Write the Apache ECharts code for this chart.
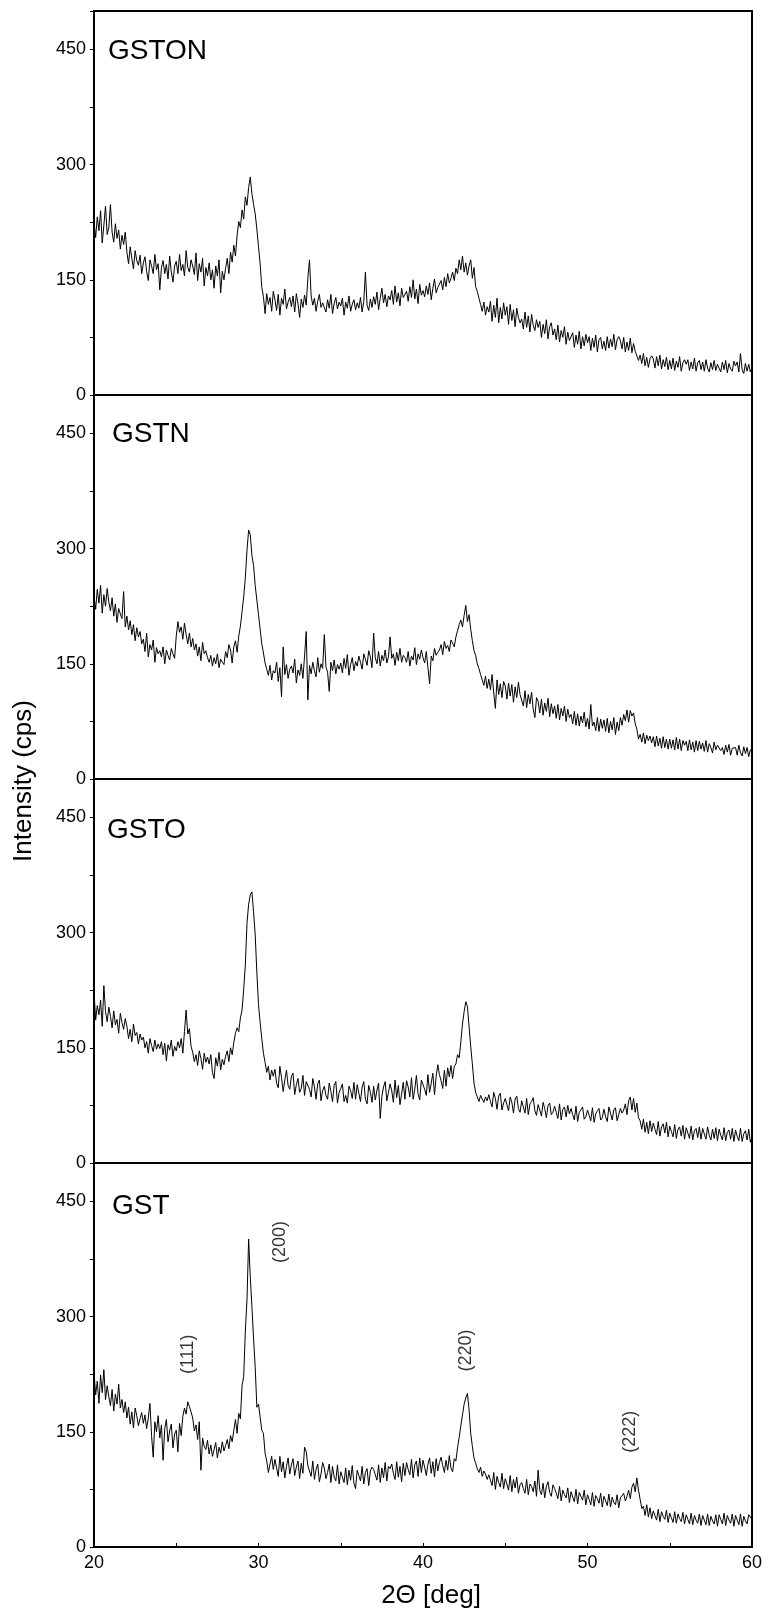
<!DOCTYPE html>
<html>
<head>
<meta charset="UTF-8">
<title>XRD GST</title>
<script src="https://cdn.jsdelivr.net/npm/echarts@6/dist/echarts.min.js"></script>
<style>html,body{margin:0;padding:0;background:#fff;}</style>
</head>
<body>
<div id="main" style="width:766px;height:1615px;"></div>
<script>
// 2theta sampling: 20..60 deg, 0.1 deg step (401 points per pattern)
var startAngle = 20;
var stepAngle = 0.1;

var panelNames = ['GSTON', 'GSTN', 'GSTO', 'GST'];

var gston = [
  225,205,232,214,240,198,221,246,209,218,
  248,212,199,223,204,215,190,208,196,212,
  186,171,193,178,164,188,175,169,182,158,
  172,180,161,149,176,168,158,183,163,171,
  137,166,175,158,170,151,181,160,147,168,
  174,158,183,162,170,155,188,166,160,176,
  168,157,185,149,171,160,178,142,166,155,
  172,150,163,139,168,155,176,133,161,150,
  165,178,158,186,173,195,181,208,226,218,
  241,229,258,247,270,284,262,248,236,216,
  193,171,140,128,106,132,118,127,109,135,
  124,110,131,104,126,118,138,112,121,127,
  115,129,108,132,119,101,125,114,130,117,
  152,176,129,117,126,109,122,131,114,120,
  118,108,124,113,131,106,119,127,112,121,
  116,126,104,121,113,129,109,118,124,111,
  120,113,127,108,122,160,117,110,125,114,
  128,118,134,111,126,139,120,131,115,129,
  124,136,118,142,121,133,116,139,127,131,
  135,122,141,127,150,125,138,119,144,130,
  136,128,142,131,146,124,139,151,133,140,
  142,149,137,153,141,158,146,152,160,149,
  165,158,176,163,181,160,172,156,168,176,
  152,166,141,135,126,118,109,121,104,115,
  108,122,96,117,101,126,94,114,99,120,
  104,115,92,118,97,111,89,113,101,94,
  99,86,108,88,103,82,105,91,84,98,
  88,96,75,92,80,98,73,89,94,78,
  86,72,91,69,84,75,89,66,82,71,
  72,81,62,78,66,83,60,76,64,79,
  68,76,58,74,62,78,56,72,75,60,
  70,58,76,61,73,63,79,59,72,76,
  71,60,75,56,69,58,74,55,67,57,
  58,45,52,41,54,38,49,36,47,51,
  47,35,50,38,52,34,46,37,49,33,
  45,34,48,32,44,36,50,31,42,46,
  40,46,32,43,34,48,31,42,45,33,
  43,31,46,35,30,42,33,45,32,40,
  39,30,43,33,45,29,41,34,31,44,
  38,43,30,54,33,28,41,31,40,30,
  36
];

var gstn = [
  238,221,247,229,252,216,240,225,248,231,
  219,236,212,228,204,222,215,209,244,198,
  212,194,206,188,201,180,197,185,192,176,
  182,166,190,159,175,168,181,152,171,163,
  167,159,172,150,168,161,155,170,163,157,
  186,205,191,198,182,203,188,176,190,172,
  183,168,176,160,172,154,178,163,167,158,
  152,161,147,158,150,163,145,156,152,149,
  166,158,175,168,151,172,180,165,186,199,
  218,237,262,298,324,318,291,278,252,233,
  214,195,176,164,151,143,135,148,129,141,
  138,152,127,145,107,172,136,149,131,143,
  147,138,156,125,142,135,150,131,160,192,
  103,148,137,152,141,133,158,139,150,144,
  188,146,139,114,152,141,155,137,149,143,
  151,138,157,144,162,135,149,158,141,153,
  147,160,152,143,163,156,148,167,159,145,
  190,158,150,166,147,161,154,168,151,159,
  185,157,163,148,165,154,170,152,161,158,
  152,166,147,160,155,171,149,163,156,168,
  158,151,166,145,124,160,154,170,161,165,
  168,175,162,179,170,174,166,181,177,172,
  185,193,201,207,198,213,226,205,214,195,
  180,167,161,150,144,136,129,122,134,118,
  130,116,136,112,92,129,110,124,106,127,
  121,104,125,108,123,100,120,106,126,110,
  111,95,115,93,110,98,113,91,80,106,
  101,86,104,83,99,88,105,81,98,85,
  95,79,97,77,92,82,95,75,91,80,
  84,72,88,70,85,69,82,73,87,68,
  79,65,97,69,74,63,80,62,78,66,
  77,62,79,60,75,64,80,58,74,63,
  80,70,84,76,90,74,89,82,86,72,
  65,52,58,48,60,46,57,50,56,47,
  55,42,56,43,53,40,55,41,52,39,
  52,40,51,38,54,39,52,37,50,44,
  49,37,51,38,48,35,50,37,49,39,
  47,36,50,35,46,41,34,48,38,44,
  43,37,41,32,44,35,45,31,40,42,
  41,31,44,34,30,42,33,41,29,38,
  36
];

var gsto = [
  224,186,205,193,212,178,231,197,184,203,
  191,176,198,180,187,169,195,183,174,188,
  178,162,174,158,181,166,170,155,168,160,
  164,150,158,143,162,153,145,160,148,155,
  149,158,141,156,133,154,147,160,139,152,
  146,158,150,162,143,171,199,168,175,152,
  144,132,141,127,146,136,122,143,131,138,
  129,141,118,110,137,126,144,121,135,128,
  139,146,132,150,141,157,169,176,171,189,
  199,226,258,312,337,349,353,327,297,248,
  206,183,162,143,131,118,126,108,121,113,
  122,104,98,126,111,93,108,121,101,96,
  113,117,89,102,110,92,97,114,88,106,
  106,96,86,110,99,83,103,108,81,94,
  100,88,83,104,93,80,101,106,78,92,
  97,103,80,88,78,100,94,84,105,83,
  102,91,80,99,106,83,77,101,92,79,
  100,82,95,104,58,87,99,106,81,92,
  103,94,79,108,85,101,76,90,105,83,
  107,99,86,111,83,96,114,90,82,108,
  109,96,88,115,92,104,117,89,113,128,
  115,107,97,121,100,124,112,127,110,126,
  129,141,137,158,181,197,210,204,178,152,
  129,104,92,86,80,88,83,79,86,81,
  89,80,73,92,84,70,87,91,69,78,
  84,76,68,86,79,65,83,87,71,66,
  81,73,65,84,63,77,80,85,68,62,
  76,69,61,79,71,59,75,78,63,66,
  74,66,58,77,56,70,73,60,75,64,
  71,63,56,74,54,66,69,73,57,60,
  69,62,55,72,53,64,68,71,56,59,
  70,60,54,73,65,56,69,72,55,63,
  71,65,69,77,63,81,86,69,84,66,
  78,59,55,44,57,40,53,38,55,41,
  52,44,37,54,35,47,51,39,53,34,
  48,41,34,50,32,44,47,35,49,31,
  46,39,32,48,30,42,45,33,47,31,
  45,38,31,47,36,30,44,32,46,29,
  44,36,30,46,29,40,43,31,45,28,
  43,35,29,45,28,38,42,30,44,27,
  35
];

var gst = [
  228,198,216,187,224,201,231,192,210,196,
  184,205,177,199,186,212,181,192,175,189,
  168,182,160,176,155,181,171,158,167,175,
  161,172,154,168,187,145,117,163,150,171,
  142,159,113,154,166,137,151,160,129,147,
  152,124,161,145,170,181,173,189,183,176,
  168,151,159,140,163,100,142,131,127,139,
  121,133,118,127,136,116,130,122,137,125,
  132,140,128,145,137,152,166,148,174,167,
  210,222,281,322,401,352,313,271,234,182,
  186,169,152,148,122,112,97,108,118,101,
  114,103,92,118,98,111,90,105,116,95,
  107,115,93,104,112,89,109,96,130,124,
  106,99,92,112,88,101,108,85,95,110,
  103,89,97,108,84,105,91,86,107,82,
  98,91,84,103,81,100,87,106,83,76,
  100,93,86,105,82,97,102,80,99,104,
  101,94,87,107,84,103,90,110,86,105,
  102,108,96,88,111,91,105,85,109,93,
  110,101,94,114,90,107,112,92,116,97,
  113,104,93,108,116,96,111,91,115,99,
  110,117,106,97,113,100,119,103,98,115,
  112,129,143,158,172,186,194,200,179,148,
  131,116,109,102,97,104,92,99,95,88,
  94,87,80,97,75,92,84,78,96,76,
  89,82,74,93,72,88,77,91,70,81,
  84,76,70,88,68,82,79,72,86,66,
  100,74,68,83,64,79,85,71,66,81,
  76,70,63,79,60,74,68,64,77,58,
  72,65,59,75,56,71,66,61,74,55,
  68,62,55,71,53,67,63,57,70,52,
  66,60,54,69,52,65,58,55,68,51,
  64,62,70,60,66,74,63,78,83,72,
  90,74,62,50,53,41,55,39,51,37,
  47,41,35,49,33,46,40,36,48,32,
  44,38,32,46,31,43,37,33,45,30,
  42,36,30,44,29,41,35,31,43,28,
  41,35,29,43,28,40,34,30,42,27,
  42,36,30,44,28,41,35,31,43,27,
  41,35,29,43,27,40,34,30,42,44,
  36
];

// reflection labels on the GST pattern (position in 2theta / cps)
var peakNames = ['(111)', '(200)', '(220)', '(222)'];
var peakX = [25.7, 31.3, 42.6, 52.6];
var peakY = [251, 397, 256, 150];

var patterns = [gston, gstn, gsto, gst];

var font = '"Liberation Sans", Arial, sans-serif';
var myChart = echarts.init(document.getElementById('main'));

var panelTop = [11, 395, 779, 1163];
var grids = [], xAxes = [], yAxes = [], series = [];

for (var i = 0; i < 4; i++) {
    var last = (i === 3);
    grids.push({
        left: 94, width: 658, top: panelTop[i], height: 384,
        show: true, borderColor: '#000', borderWidth: 2
    });
    xAxes.push({
        type: 'value', gridIndex: i, min: 20, max: 60, interval: 5,
        axisLine: {show: true, onZero: false, lineStyle: {color: '#000', width: 2}},
        axisTick: {show: last, inside: true, length: 4, lineStyle: {color: '#000', width: 1}},
        axisLabel: {
            show: last, margin: 7, color: '#000', fontSize: 18, fontFamily: font,
            formatter: function (v) { return v % 10 === 0 ? String(v) : ''; }
        },
        splitLine: {show: false}
    });
    yAxes.push({
        type: 'value', gridIndex: i, min: 0, max: 500, interval: 75,
        axisLine: {show: true, onZero: false, lineStyle: {color: '#000', width: 2}},
        axisTick: {show: true, length: 4, lineStyle: {color: '#000', width: 1}},
        axisLabel: {
            margin: 8, color: '#000', fontSize: 18, fontFamily: font,
            formatter: function (v) { return (v % 150 === 0 && v < 500) ? String(v) : ''; }
        },
        splitLine: {show: false}
    });
    var pts = [];
    for (var k = 0; k < patterns[i].length; k++) {
        pts.push([+(startAngle + k * stepAngle).toFixed(2), patterns[i][k]]);
    }
    series.push({
        name: panelNames[i], type: 'line', xAxisIndex: i, yAxisIndex: i,
        data: pts, showSymbol: false, symbol: 'none',
        lineStyle: {color: '#000', width: 1}
    });
}

var peakData = [];
for (var p = 0; p < peakNames.length; p++) {
    peakData.push({name: peakNames[p], value: [peakX[p], peakY[p]]});
}
series.push({
    type: 'scatter', xAxisIndex: 3, yAxisIndex: 3, data: peakData,
    symbolSize: 1, itemStyle: {color: 'rgba(0,0,0,0)'},
    label: {
        show: true, position: 'inside', rotate: 90, formatter: '{b}',
        color: '#000', fontSize: 18, fontFamily: font
    }
});

var nameX = [108, 112, 107, 112];
var nameY = [51, 434, 830, 1206];
var graphics = [];
for (var j = 0; j < 4; j++) {
    graphics.push({
        type: 'text', x: nameX[j], y: nameY[j],
        style: {text: panelNames[j], font: '28px ' + font, fill: '#000', textVerticalAlign: 'middle'}
    });
}
graphics.push({
    type: 'text', x: 24, y: 781, rotation: Math.PI / 2,
    style: {text: 'Intensity (cps)', font: '26px ' + font, fill: '#000', textAlign: 'center', textVerticalAlign: 'middle'}
});
graphics.push({
    type: 'text', x: 431, y: 1596,
    style: {text: '2\u0398 [deg]', font: '26px ' + font, fill: '#000', textAlign: 'center', textVerticalAlign: 'middle'}
});

var option = {
    animation: false,
    backgroundColor: '#fff',
    grid: grids,
    xAxis: xAxes,
    yAxis: yAxes,
    series: series,
    graphic: graphics
};

myChart.setOption(option);
</script>
</body>
</html>
